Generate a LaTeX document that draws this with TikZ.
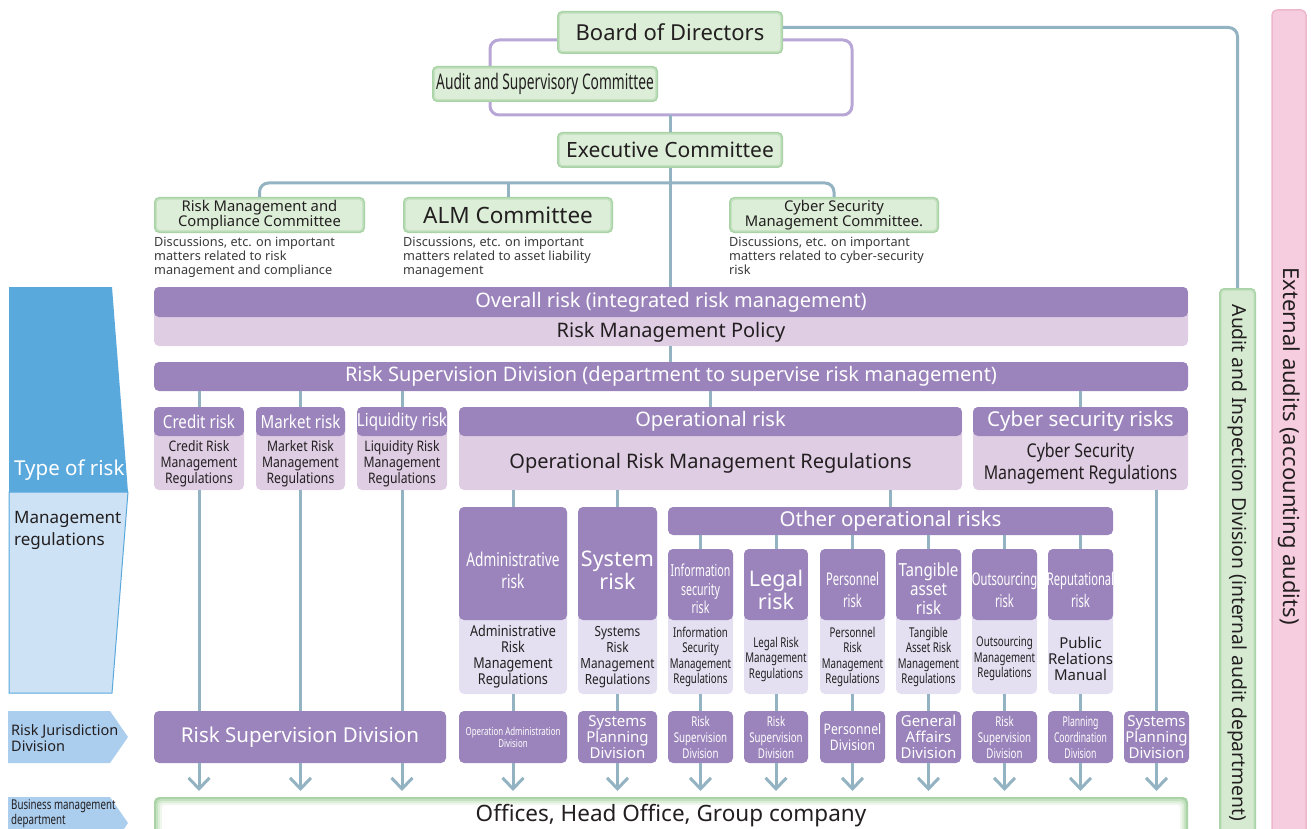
\documentclass[tikz,border=0pt]{standalone}
\usepackage{fontspec}
\setmainfont{Noto Sans}
\newfontfamily\condA{Noto Sans}[FakeStretch=0.84]
\newfontfamily\condB{Noto Sans}[FakeStretch=0.72]
\newfontfamily\condC{Noto Sans}[FakeStretch=0.64]
\usetikzlibrary{arrows.meta}

\definecolor{rdark}{HTML}{9B84BB}
\definecolor{rpink}{HTML}{DFCDE4}
\definecolor{rlav}{HTML}{E4E0F1}
\definecolor{cnc}{HTML}{93B3C3}
\definecolor{brkc}{HTML}{B8A6D6}
\definecolor{gfill}{HTML}{DCEED8}
\definecolor{gmid}{HTML}{C4E2C0}
\definecolor{gedge}{HTML}{A9D3A6}
\definecolor{tx}{HTML}{231F20}
\definecolor{dtx}{HTML}{3A3A3A}
\definecolor{bdark}{HTML}{5AA9DD}
\definecolor{blight}{HTML}{CDE2F4}
\definecolor{bmid}{HTML}{ABCDEE}
\definecolor{pfill}{HTML}{F6CDDE}
\definecolor{pedge}{HTML}{EDB6CC}
\definecolor{afill}{HTML}{D5EAD1}

\newcommand\fs[2]{\fontsize{#1}{#2}\selectfont}
% box from (x1,y1) to (x2,y2); y grows downwards
\newcommand\bx[7]{\node[box,#6,minimum width={(#4-#2)*1pt},minimum height={(#5-#3)*1pt}] (#1) at (#2,#3) {#7};}

\tikzset{
  box/.style={rectangle,rounded corners=5pt,inner sep=0pt,outer sep=0pt,anchor=north west,align=center},
  head/.style={path picture={\fill[rdark] ([yshift=2pt]path picture bounding box.north west) rectangle ([yshift=-#1pt]path picture bounding box.north east);}},
  glow/.style n args={3}{fill=#1,path picture={
    \fill[#2,rounded corners=4pt] ([shift={(1.5pt,-1.5pt)}]path picture bounding box.north west) rectangle ([shift={(-1.5pt,1.5pt)}]path picture bounding box.south east);
    \fill[#3,rounded corners=3pt] ([shift={(3pt,-3pt)}]path picture bounding box.north west) rectangle ([shift={(-3pt,3pt)}]path picture bounding box.south east);}},
  wideglow/.style={fill=gedge,path picture={
    \fill[gmid,rounded corners=5pt] ([shift={(2pt,-2pt)}]path picture bounding box.north west) rectangle ([shift={(-2pt,2pt)}]path picture bounding box.south east);
    \fill[gfill,rounded corners=4pt] ([shift={(4pt,-4pt)}]path picture bounding box.north west) rectangle ([shift={(-4pt,4pt)}]path picture bounding box.south east);
    \fill[gfill!45!white,rounded corners=3pt] ([shift={(6pt,-6pt)}]path picture bounding box.north west) rectangle ([shift={(-6pt,6pt)}]path picture bounding box.south east);
    \fill[white,rounded corners=3pt] ([shift={(8pt,-8pt)}]path picture bounding box.north west) rectangle ([shift={(-8pt,8pt)}]path picture bounding box.south east);}},
  gbox/.style={glow={gedge}{gmid}{gfill},text=tx},
  pbox/.style={fill=pfill,draw=pedge,line width=1.5pt},
  abox/.style={glow={gedge}{gmid}{afill},text=tx},
  dbox/.style={fill=rdark,text=white},
  cn/.style={draw=cnc,line width=3pt},
  arr/.style={cn,-{Straight Barb[length=11pt,width=21pt]}},
  wt/.style={text=white,align=center,inner sep=0pt},
  dt/.style={text=tx,align=center,inner sep=0pt},
  desc/.style={text=dtx,align=left,inner sep=0pt,anchor=north west,font=\fs{12.7}{14}},
}

\begin{document}
\begin{tikzpicture}[x=1pt,y=-1pt]
\useasboundingbox (0,0) rectangle (1311,829);
\clip (0,0) rectangle (1311,829);

% ---------- audit columns on the right ----------
\bx{ext}{1272}{10}{1306}{870}{pbox}{}
\node[dt,rotate=-90,font=\fs{22}{24}] (extT) at (1289,446) {External audits (accounting audits)};
\bx{aud}{1219}{288}{1256}{870}{abox}{}
\node[dt,rotate=-90,font=\fs{19.3}{22}] (audT) at (1237.5,563) {Audit and Inspection Division (internal audit department)};

% ---------- governance at the top ----------
\bx{brk}{490}{40}{852}{115}{draw=brkc,line width=3pt,rounded corners=9pt}{}
\bx{board}{557}{11}{783}{54}{gbox,font=\fs{22}{24}}{Board of Directors}
\draw[cn,rounded corners=9pt] ([yshift=5pt]board.east) -| (aud.north);
\bx{asc}{432}{66}{658}{102}{gbox,font=\condC\fs{21.5}{24}}{Audit and Supervisory Committee}
\bx{exec}{557}{132}{783}{168}{gbox,font=\fs{21}{24}}{Executive Committee}
\draw[cn] (brk.south -| exec.north) -- (exec.north);

% ---------- committees ----------
\bx{rmc}{154}{197}{365}{233}{gbox,font=\fs{14.8}{15.5}}{Risk Management and\\Compliance Committee}
\bx{alm}{403}{197}{613}{233}{gbox,font=\fs{22.5}{24}}{ALM Committee}
\bx{csc}{729}{197}{939}{233}{gbox,font=\fs{14.8}{15.5}}{Cyber Security\\Management Committee.}
\draw[cn,rounded corners=9pt] (rmc.north) -- ++(0,-14) -| (csc.north);
\draw[cn] (alm.north) -- (alm.north |- 0,183);
\node[desc] (rmcD) at (154,237) {Discussions, etc. on important\\matters related to risk\\management and compliance};
\node[desc] (almD) at (403,237) {Discussions, etc. on important\\matters related to asset liability\\management};
\node[desc] (cscD) at (729,237) {Discussions, etc. on important\\matters related to cyber-security\\risk};

% ---------- integrated risk management ----------
\draw[cn] (exec.south) -- (exec.south |- 0,288);
\bx{overall}{154}{287}{1188}{346}{head=30,fill=rpink}{}
\node[wt,font=\fs{20}{22}] (overallH) at (671,302) {Overall risk (integrated risk management)};
\node[dt,font=\fs{20}{22}] (overallB) at (671,332) {Risk Management Policy};
\bx{rsd}{154}{362}{1188}{391}{dbox,font=\fs{20}{22}}{Risk Supervision Division (department to supervise risk management)}
\draw[cn] (overall.south -| exec.south) -- (rsd.north -| exec.south);

% ---------- risk categories ----------
\bx{credit}{154}{407}{244}{490}{head=29,fill=rpink}{}
\bx{market}{256}{407}{345}{490}{head=29,fill=rpink}{}
\bx{liq}{357}{407}{447}{490}{head=29,fill=rpink}{}
\bx{oper}{459}{407}{962}{490}{head=29,fill=rpink}{}
\bx{cyber}{973}{407}{1188}{490}{head=29,fill=rpink}{}
\foreach \b in {credit,market,liq,oper,cyber}
  \draw[cn] (\b.north) -- (\b.north |- rsd.south);
\node[wt,font=\condA\fs{18}{20}] (creditH) at (199,421.5) {Credit risk};
\node[wt,font=\condA\fs{18}{20}] (marketH) at (300.5,421.5) {Market risk};
\node[wt,font=\condA\fs{18}{20}] (liqH) at (402,421.5) {Liquidity risk};
\node[wt,font=\fs{20}{22}] (operH) at (710.5,421.5) {Operational risk};
\node[wt,font=\fs{20.5}{22}] (cyberH) at (1080.5,421.5) {Cyber security risks};
\node[dt,font=\condA\fs{14.5}{16}] (creditB) at (199,464) {Credit Risk\\Management\\Regulations};
\node[dt,font=\condA\fs{14.5}{16}] (marketB) at (300.5,464) {Market Risk\\Management\\Regulations};
\node[dt,font=\condA\fs{14.5}{16}] (liqB) at (402,464) {Liquidity Risk\\Management\\Regulations};
\node[dt,font=\fs{20}{22}] (operB) at (710.5,463) {Operational Risk Management Regulations};
\node[dt,font=\condA\fs{19}{22}] (cyberB) at (1080.5,464) {Cyber Security\\Management Regulations};

% ---------- operational risk breakdown ----------
\bx{adm}{459}{507}{567}{694}{head=113,fill=rlav}{}
\bx{sys}{578}{507}{657}{694}{head=113,fill=rlav}{}
\bx{other}{668}{507}{1113}{535}{dbox,font=\fs{20.5}{22}}{Other operational risks}
\draw[cn] (adm.north) -- (adm.north |- oper.south);
\draw[cn] (sys.north) -- (sys.north |- oper.south);
\draw[cn] (other.north) -- (other.north |- oper.south);

\bx{info}{668}{549}{733}{694}{head=71,fill=rlav}{}
\bx{legal}{744}{549}{808}{694}{head=71,fill=rlav}{}
\bx{pers}{820}{549}{885}{694}{head=71,fill=rlav}{}
\bx{tang}{896}{549}{961}{694}{head=71,fill=rlav}{}
\bx{outs}{972}{549}{1037}{694}{head=71,fill=rlav}{}
\bx{repu}{1048}{549}{1113}{694}{head=71,fill=rlav}{}
\foreach \b in {info,legal,pers,tang,outs,repu}
  \draw[cn] (\b.north) -- (\b.north |- other.south);

\node[wt,font=\condB\fs{19}{22}] (admH) at (513,570) {Administrative\\risk};
\node[wt,font=\fs{21.5}{23}] (sysH) at (617.5,570) {System\\risk};
\node[wt,font=\condC\fs{16.5}{18.5}] (infoH) at (700.5,589) {Information\\security\\risk};
\node[wt,font=\fs{21.5}{23}] (legalH) at (776,590) {Legal\\risk};
\node[wt,font=\condC\fs{17.5}{22}] (persH) at (852.5,590) {Personnel\\risk};
\node[wt,font=\condA\fs{18}{19}] (tangH) at (928.5,589) {Tangible\\asset\\risk};
\node[wt,font=\condC\fs{17.5}{22}] (outsH) at (1004.5,590) {Outsourcing\\risk};
\node[wt,font=\condC\fs{17.5}{22}] (repuH) at (1080.5,590) {Reputational\\risk};

\node[dt,font=\condA\fs{15}{16}] (admB) at (513,657) {Administrative\\Risk\\Management\\Regulations};
\node[dt,font=\condA\fs{14}{16}] (sysB) at (617.5,657) {Systems\\Risk\\Management\\Regulations};
\node[dt,font=\condB\fs{13.5}{15.5}] (infoB) at (700.5,657) {Information\\Security\\Management\\Regulations};
\node[dt,font=\condB\fs{13.5}{15.5}] (legalB) at (776,659) {Legal Risk\\Management\\Regulations};
\node[dt,font=\condB\fs{13.5}{15.5}] (persB) at (852.5,657) {Personnel\\Risk\\Management\\Regulations};
\node[dt,font=\condB\fs{13.5}{15.5}] (tangB) at (928.5,657) {Tangible\\Asset Risk\\Management\\Regulations};
\node[dt,font=\condB\fs{13.5}{15.5}] (outsB) at (1004.5,659) {Outsourcing\\Management\\Regulations};
\node[dt,font=\fs{15}{16}] (repuB) at (1080.5,659) {Public\\Relations\\Manual};

% ---------- left legend ----------
\fill[bdark] (9,287) -- (112,287) -- (128,492) -- (9,492) -- cycle;
\filldraw[fill=blight,draw=bdark,line width=1pt] (9,492) -- (128,492) -- (112,693) -- (9,693) -- cycle;
\node[wt,anchor=base west,font=\fs{20.5}{24}] (typeT) at (14,475) {Type of risk};
\node[dt,anchor=north west,align=left,font=\fs{17}{22}] (mregT) at (14,511) {Management\\regulations};
\fill[bmid] (8,711) -- (110,711) -- (128,737) -- (110,763) -- (8,763) -- cycle;
\node[dt,anchor=west,align=left,font=\fs{14.5}{16}] (rjdT) at (11,738) {Risk Jurisdiction\\Division};
\fill[bmid] (8,797) -- (110,797) -- (128,823) -- (110,849) -- (8,849) -- cycle;
\node[dt,anchor=north west,align=left,font=\condB\fs{13.5}{15}] (bmdT) at (11,799) {Business management\\department};

% ---------- jurisdiction divisions ----------
\bx{dRsd}{154}{711}{446}{763}{dbox,font=\fs{20.5}{22}}{Risk Supervision Division}
\bx{dOad}{459}{711}{567}{763}{dbox,font=\condB\fs{11}{12}}{Operation Administration\\Division}
\bx{dSp1}{578}{711}{657}{763}{dbox,font=\fs{15}{16}}{Systems\\Planning\\Division}
\bx{dR1}{668}{711}{733}{763}{dbox,font=\condB\fs{13.5}{16}}{Risk\\Supervision\\Division}
\bx{dR2}{744}{711}{808}{763}{dbox,font=\condB\fs{13.5}{16}}{Risk\\Supervision\\Division}
\bx{dPer}{820}{711}{885}{763}{dbox,font=\condA\fs{14.5}{16}}{Personnel\\Division}
\bx{dGa}{896}{711}{961}{763}{dbox,font=\fs{15}{16}}{General\\Affairs\\Division}
\bx{dR3}{972}{711}{1037}{763}{dbox,font=\condB\fs{13.5}{16}}{Risk\\Supervision\\Division}
\bx{dPc}{1048}{711}{1113}{763}{dbox,font=\condC\fs{13.5}{16}}{Planning\\Coordination\\Division}
\bx{dSp2}{1124}{711}{1189}{763}{dbox,font=\fs{15}{16}}{Systems\\Planning\\Division}

\foreach \b in {credit,market,liq}
  \draw[cn] (\b.south) -- (\b.south |- dRsd.north);
\draw[cn] (adm.south) -- (dOad.north);
\draw[cn] (sys.south) -- (dSp1.north);
\draw[cn] (info.south) -- (dR1.north);
\draw[cn] (legal.south) -- (dR2.north);
\draw[cn] (pers.south) -- (dPer.north);
\draw[cn] (tang.south) -- (dGa.north);
\draw[cn] (outs.south) -- (dR3.north);
\draw[cn] (repu.south) -- (dPc.north);
\draw[cn] (dSp2.north) -- (dSp2.north |- cyber.south);

% ---------- business units ----------
\bx{offices}{154}{797}{1188}{870}{wideglow,text=tx}{}
\node[dt,font=\fs{22.5}{24}] (officesT) at (671,816) {Offices, Head Office, Group company};

\foreach \b in {credit,market,liq}
  \draw[arr] (\b.south |- dRsd.south) -- ([yshift=6pt]\b.south |- offices.north);
\foreach \b in {dOad,dSp1,dR1,dR2,dPer,dGa,dR3,dPc,dSp2}
  \draw[arr] (\b.south) -- ([yshift=6pt]\b.south |- offices.north);
\end{tikzpicture}
\end{document}
